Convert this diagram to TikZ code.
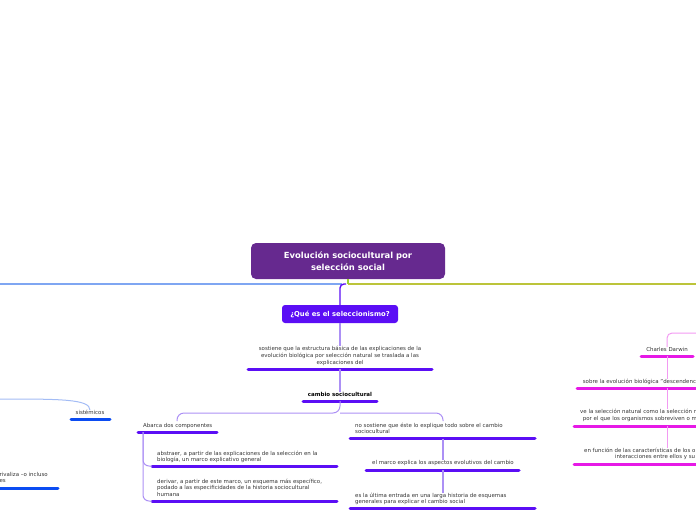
\documentclass[tikz,border=0pt]{standalone}
\usepackage{fontspec}
\setmainfont{DejaVu Sans}
\definecolor{mainpurple}{HTML}{66298F}
\definecolor{violet}{HTML}{5B0EF5}
\definecolor{lviolet}{HTML}{AC90F5}
\definecolor{blueline}{HTML}{7FA6F2}
\definecolor{bluedark}{HTML}{0B4CF2}
\definecolor{lblue}{HTML}{A3BCF5}
\definecolor{olive}{HTML}{BCC43A}
\definecolor{lgreen}{HTML}{9BD12E}
\definecolor{magen}{HTML}{E619E6}
\definecolor{lmagen}{HTML}{F29AF2}
\definecolor{textgray}{HTML}{333333}
\begin{document}
\begin{tikzpicture}[x=1pt,y=-1pt,
  txt/.style={font=\fontsize{5.45}{6.8}\selectfont, text=textgray, inner sep=0pt, align=center},
  txtl/.style={txt, align=left},
  btxt/.style={font=\fontsize{5.5}{6.8}\selectfont\bfseries, text=black, inner sep=0pt},
  uline/.style={line width=3pt, line cap=round},
  conn/.style={line width=1.2pt, rounded corners=5pt},
  thinconn/.style={line width=1pt, rounded corners=6pt}]
\useasboundingbox (0,0) rectangle (696,520);
\clip (0,0) rectangle (696,520);

% main node
\node[fill=mainpurple, rounded corners=5pt, minimum width=194pt, minimum height=36pt, inner sep=0pt,
  text=white, align=center, font=\fontsize{8.4}{11.5}\selectfont\bfseries] (main) at (348,261)
  {Evolución sociocultural por\\selección social};

% main branches
\coordinate (bl) at (0,284);
\coordinate (br) at (696,284);
\coordinate (mj) at (348,284);
\draw[blueline, line width=1.4pt] (bl) -- (342,284);
\draw[olive, line width=1.4pt] (mj) -- (br);
\draw[lgreen, line width=1.2pt] (main.south -| mj) -- (mj);

% Que es
\node[fill=violet, rounded corners=3pt, minimum width=116pt, minimum height=18pt, inner sep=0pt,
  text=white, font=\fontsize{6.8}{8}\selectfont\bfseries] (que) at (340,314) {¿Qué es el seleccionismo?};
\draw[violet, line width=1.4pt, rounded corners=4pt] (346,284) -| (que.north);

\node[txt] (sost) at (340,356) {sostiene que la estructura básica de las explicaciones de la\\evolución biológica por selección natural se traslada a las\\explicaciones del};
\draw[violet, uline] (248,369) -- (432,369);
\coordinate (u1) at (340,369);
\draw[lviolet, conn] (que.south) -- (sost.north);

\node[btxt] (camb) at (340,394) {cambio sociocultural};
\draw[violet, uline] (303,401) -- (377,401);
\coordinate (u2) at (340,401);
\draw[lviolet, conn] (u1) -- (camb.north);

% branch split
\node[txtl, anchor=base west] (abar) at (143,427) {Abarca dos componentes};
\draw[violet, uline] (138,432) -- (217,432);
\node[txtl, anchor=north west] (nosos) at (355,422.5) {no sostiene que éste lo explique todo sobre el cambio\\sociocultural};
\draw[violet, uline] (350,438.5) -- (535,438.5);
\coordinate (jl) at (177,421);
\coordinate (jr) at (443,421);
\draw[lviolet, line width=1pt, rounded corners=7pt] (u2) -- (340,413) -| (jl);
\draw[lviolet, line width=1pt, rounded corners=7pt] (340,413) -| (jr);

% left sub-branch
\node[txtl, anchor=north west] (abs) at (157,450.5) {abstraer, a partir de las explicaciones de la selección en la\\biología, un marco explicativo general};
\draw[violet, uline] (152,466) -- (337,466);
\node[txtl, anchor=north west] (der) at (157,478.5) {derivar, a partir de este marco, un esquema más específico,\\podado a las especificidades de la historia sociocultural\\humana};
\draw[violet, uline] (152,501) -- (337,501);
\coordinate (ua) at (143,432);
\coordinate (ea) at (152,466);
\coordinate (eb) at (152,501);
\draw[lviolet, thinconn] (ua) |- (ea);
\draw[lviolet, thinconn] (ua) |- (eb);

% right sub-branch
\coordinate (un) at (443,438.5);
\node[txt] (marco) at (443,463) {el marco explica los aspectos evolutivos del cambio};
\draw[violet, uline] (366,470) -- (519,470);
\coordinate (um) at (443,470);
\draw[lviolet, conn] (un) -- (marco.north);
\node[txtl, anchor=north west] (ult) at (355,492.5) {es la última entrada en una larga historia de esquemas\\generales para explicar el cambio social};
\draw[violet, uline] (350,508.5) -- (535,508.5);
\draw[lviolet, conn] (um) -- (ult.north -| um);

% right (magenta) branch
\coordinate (mtop) at (696,333);
\node[txt] (darw) at (667,349.5) {Charles Darwin};
\draw[magen, uline] (641,356) -- (693,356);
\draw[lmagen, line width=1pt, rounded corners=5pt] (mtop) -| (darw.north);
\coordinate (ud) at (667,356);
\node[txtl, anchor=north west] (sobre) at (582.7,378.5) {sobre la evolución biológica "descendenci};
\draw[magen, uline] (577,388) -- (700,388);
\draw[lmagen, line width=1pt] (ud) -- (sobre.north -| ud);
\coordinate (us) at (667,388);
\node[txtl, anchor=north west] (ve) at (580,409) {ve la selección natural como la selección n\\\hspace*{2.7pt}por el que los organismos sobreviven o m};
\draw[magen, uline] (574,426) -- (700,426);
\draw[lmagen, line width=1pt] (us) -- (ve.north -| us);
\coordinate (uv) at (667,426);
\node[txtl, anchor=north west] (func) at (584,447.5) {en función de las características de los o\\\hspace*{31pt}interacciones entre ellos y su};
\draw[magen, uline] (574,464) -- (700,464);
\draw[lmagen, line width=1pt] (uv) -- (func.north -| uv);

% left (blue) branch
\coordinate (lblft) at (0,399);
\node[txt] (sist) at (90,412.5) {sistémicos};
\draw[bluedark, uline] (71,419) -- (110,419);
\draw[lblue, line width=1pt] (lblft) .. controls (60,399) and (90,399) .. (sist.north);
\node[txtl, anchor=north east] (riv) at (48,472.5) {rivaliza –o incluso};
\node[txtl, anchor=north east] (riv2) at (6,479) {es};
\draw[bluedark, uline] (-5,488.5) -- (58,488.5);
\end{tikzpicture}
\end{document}
